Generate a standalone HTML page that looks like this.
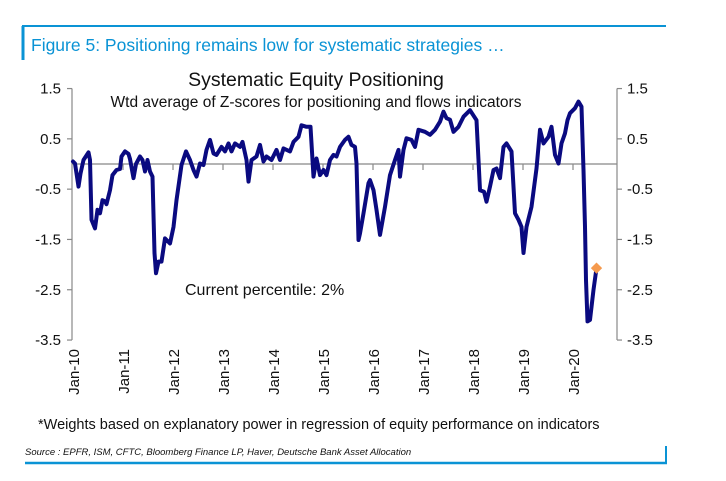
<!DOCTYPE html>
<html><head><meta charset="utf-8"><style>
body{margin:0;background:#fff;width:726px;height:481px;overflow:hidden;font-family:"Liberation Sans",sans-serif;}
svg{display:block}
</style></head><body>
<svg id="c" width="726" height="481">
<line x1="22" y1="26" x2="666" y2="26" stroke="#0a93d5" stroke-width="2"/>
<line x1="23" y1="26" x2="23" y2="60" stroke="#0a93d5" stroke-width="3"/>
<text x="31" y="51" font-size="17.5" fill="#0a93d5">Figure 5: Positioning remains low for systematic strategies …</text>
<text x="316" y="86" font-size="19.5" text-anchor="middle" fill="#111">Systematic Equity Positioning</text>
<text x="316" y="107" font-size="15.5" text-anchor="middle" fill="#111">Wtd average of Z-scores for positioning and flows indicators</text>
<text x="185" y="295" font-size="16" fill="#111">Current percentile: 2%</text>
<g id="axes"></g>
<g id="plot"></g>
<text x="38" y="429" font-size="14.5" fill="#111">*Weights based on explanatory power in regression of equity performance on indicators</text>
<text x="25" y="455" font-size="9.5" font-style="italic" fill="#111">Source : EPFR, ISM, CFTC, Bloomberg Finance LP, Haver, Deutsche Bank Asset Allocation</text>
<line x1="25" y1="463" x2="667" y2="463" stroke="#0a93d5" stroke-width="2.5"/>
<line x1="666" y1="446" x2="666" y2="464" stroke="#0a93d5" stroke-width="2"/>
</svg>
<script>
const yTicks=[1.5,0.5,-0.5,-1.5,-2.5,-3.5];
const yLabels=["1.5","0.5","-0.5","-1.5","-2.5","-3.5"];
const xLabels=["Jan-10","Jan-11","Jan-12","Jan-13","Jan-14","Jan-15","Jan-16","Jan-17","Jan-18","Jan-19","Jan-20"];
const times=[0,0.04,0.11,0.15,0.21,0.31,0.34,0.37,0.44,0.49,0.54,0.59,0.64,0.67,0.74,0.79,0.87,0.94,0.97,1.04,1.11,1.14,1.21,1.26,1.34,1.39,1.44,1.49,1.54,1.59,1.63,1.66,1.71,1.77,1.84,1.94,2.01,2.07,2.17,2.26,2.34,2.41,2.47,2.54,2.61,2.67,2.74,2.81,2.87,2.97,3.04,3.11,3.17,3.24,3.34,3.39,3.47,3.51,3.57,3.67,3.74,3.81,3.87,3.97,4.07,4.14,4.21,4.34,4.41,4.51,4.57,4.67,4.75,4.81,4.87,4.94,5.01,5.07,5.14,5.21,5.27,5.34,5.44,5.51,5.57,5.64,5.67,5.71,5.74,5.81,5.91,5.94,6.01,6.07,6.14,6.24,6.34,6.44,6.51,6.54,6.61,6.67,6.77,6.84,6.91,7.04,7.14,7.24,7.34,7.41,7.47,7.54,7.61,7.71,7.81,7.94,8.07,8.11,8.14,8.22,8.27,8.34,8.41,8.47,8.54,8.61,8.67,8.77,8.84,8.91,8.97,9.01,9.07,9.17,9.27,9.34,9.41,9.51,9.57,9.64,9.71,9.77,9.84,9.89,9.94,10.04,10.11,10.17,10.21,10.24,10.26,10.29,10.34,10.41,10.47];
const values=[0.05,0.01,-0.45,-0.19,0.08,0.23,0.08,-1.11,-1.28,-0.91,-0.98,-0.72,-0.74,-0.8,-0.52,-0.22,-0.12,-0.1,0.15,0.25,0.2,0.1,-0.28,0.0,0.15,0.08,-0.15,0.08,-0.15,-0.25,-1.77,-2.17,-1.94,-1.94,-1.48,-1.58,-1.25,-0.72,-0.02,0.25,0.08,-0.12,-0.25,0.01,-0.02,0.28,0.48,0.21,0.18,0.34,0.25,0.41,0.25,0.41,0.34,0.44,0.08,-0.35,0.08,0.15,0.38,0.05,0.15,0.08,0.28,0.08,0.31,0.25,0.44,0.54,0.77,0.74,0.74,-0.25,0.11,-0.22,-0.12,-0.22,0.08,0.18,0.15,0.34,0.48,0.54,0.38,0.34,0.01,-1.51,-1.38,-0.98,-0.38,-0.32,-0.52,-0.91,-1.41,-0.85,-0.22,0.08,0.28,-0.25,0.28,0.51,0.48,0.34,0.68,0.64,0.58,0.68,0.84,1.04,0.91,0.88,0.64,0.74,0.94,1.07,0.87,0.08,-0.52,-0.55,-0.75,-0.45,-0.12,-0.09,-0.28,0.34,0.41,0.25,-0.98,-1.11,-1.25,-1.77,-1.25,-0.85,-0.09,0.68,0.41,0.54,0.74,0.18,0.01,0.41,0.61,0.87,1.01,1.11,1.24,1.14,-0.12,-1.25,-2.31,-3.13,-3.10,-2.50,-2.07];
const x0=73, pxPerYear=50, y0=164, pxPerUnit=50.3, axL=72, axR=617;
function X(t){return x0+t*pxPerYear;}
function Y(v){return y0-v*pxPerUnit;}
const NS="http://www.w3.org/2000/svg";
const axes=document.getElementById('axes'), plot=document.getElementById('plot');
function mk(tag,attrs,parent){const e=document.createElementNS(NS,tag);for(const k in attrs)e.setAttribute(k,attrs[k]);parent.appendChild(e);return e;}
const ytop=Y(yTicks[0]), ybot=Y(yTicks[yTicks.length-1]);
let e;
e=mk('line',{x1:axL,y1:ytop,x2:axL,y2:ybot,stroke:'#888','stroke-width':1.2},axes);


e=mk('line',{x1:axR,y1:ytop,x2:axR,y2:ybot,stroke:'#888','stroke-width':1.2},axes);


e=mk('line',{x1:axL,y1:Y(0),x2:axR,y2:Y(0),stroke:'#888','stroke-width':1.2},axes);


yTicks.forEach((v,i)=>{
  const y=Y(v);
  mk('line',{x1:axL-5,y1:y,x2:axL,y2:y,stroke:'#888','stroke-width':1.2},axes);
  mk('line',{x1:axR,y1:y,x2:axR+5,y2:y,stroke:'#888','stroke-width':1.2},axes);
  let t=mk('text',{x:axL-11,y:y+5,'font-size':15,'text-anchor':'end',fill:'#111'},axes);
  t.textContent=yLabels[i];
  
  
  t=mk('text',{x:axR+10,y:y+5,'font-size':15,fill:'#111'},axes);
  t.textContent=yLabels[i];
  
  
});
xLabels.forEach((l,i)=>{
  const x=X(i);
  if(i>0) mk('line',{x1:x,y1:Y(0),x2:x,y2:Y(0)+6,stroke:'#888','stroke-width':1.2},axes);
  const t=mk('text',{x:0,y:0,'font-size':15,'text-anchor':'end',fill:'#111',transform:`translate(${x+6},349) rotate(-90)`},axes);
  t.textContent=l;
  
  
});
const d=times.map((t,i)=>(i?'L':'M')+X(t).toFixed(1)+','+Y(values[i]).toFixed(1)).join(' ');
e=mk('path',{d:d,fill:'none',stroke:'#0a0a80','stroke-width':4,'stroke-linejoin':'round','stroke-linecap':'round'},plot);


const lx=X(times[times.length-1]), ly=Y(values[values.length-1]);
e=mk('rect',{x:lx-4,y:ly-4,width:8,height:8,fill:'#f59a4e',transform:`rotate(45 ${lx} ${ly})`},plot);


</script>
</body></html>
